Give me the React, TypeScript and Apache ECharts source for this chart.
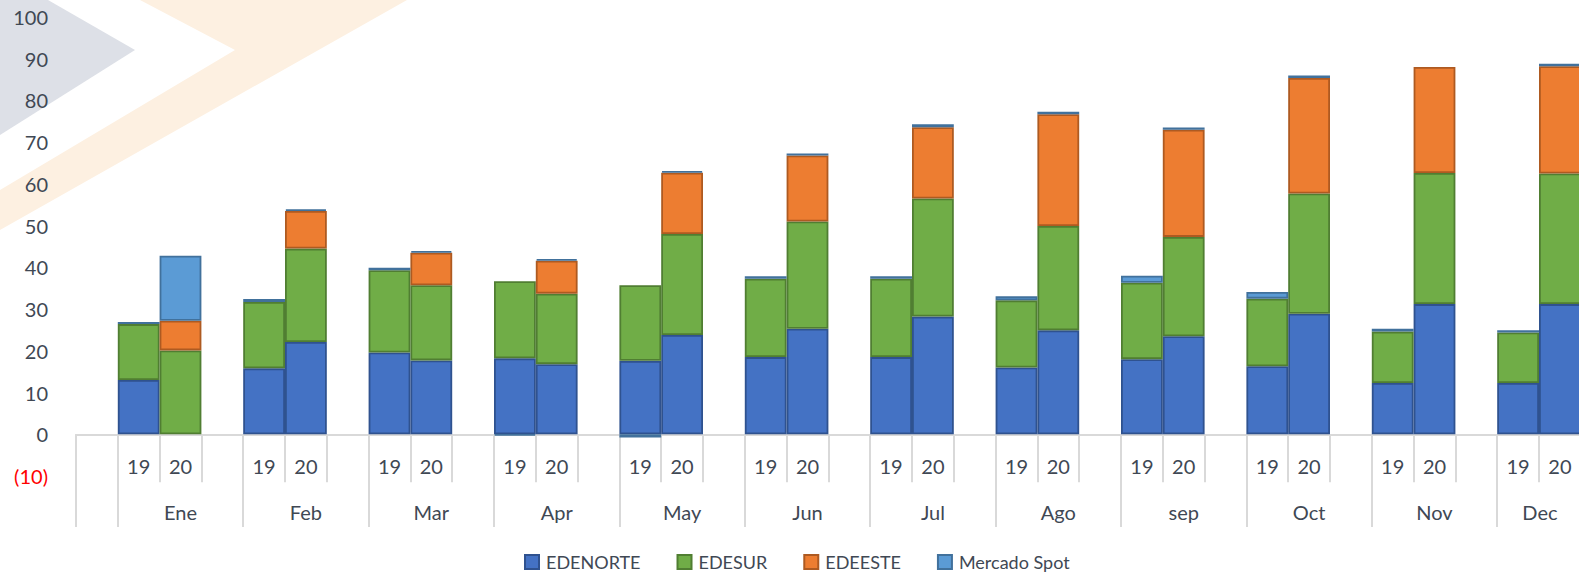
import { useEffect, useRef } from 'react';
import * as echarts from 'echarts';

const months = ['Ene', 'Feb', 'Mar', 'Apr', 'May', 'Jun', 'Jul', 'Ago', 'sep', 'Oct', 'Nov', 'Dec'];
const years = ['19', '20'];
const seriesNames = ['EDENORTE', 'EDESUR', 'EDEESTE', 'Mercado Spot'];

const edenorte19 = [13.0, 15.8, 19.6, 18.2, 17.6, 18.5, 18.5, 16.0, 18.0, 16.3, 12.3, 12.3];
const edenorte20 = [null, 22.1, 17.7, 16.8, 23.8, 25.3, 28.2, 24.9, 23.5, 28.9, 31.2, 31.2];
const edesur19 = [13.4, 15.9, 19.7, 18.5, 18.1, 18.8, 18.8, 16.1, 18.3, 16.2, 12.3, 12.1];
const edesur20 = [20.1, 22.4, 18.0, 16.9, 24.2, 25.7, 28.3, 25.0, 23.8, 28.8, 31.4, 31.3];
const edeeste19 = [null, null, null, null, null, null, null, null, null, null, null, null];
const edeeste20 = [7.1, 9.0, 7.8, 7.9, 14.7, 15.8, 17.1, 26.8, 25.7, 27.7, 25.4, 25.7];
const spot19 = [0.5, 0.7, 0.6, -0.3, -0.8, 0.6, 0.6, 1.0, 1.7, 1.6, 0.7, 0.5];
const spot20 = [15.6, 0.4, 0.4, 0.4, 0.4, 0.5, 0.7, 0.6, 0.5, 0.6, null, 0.6];

const yMin = -10;
const yMax = 100;
const yStep = 10;

const fills = ['#4472C4', '#70AD47', '#ED7D31', '#5B9BD5'];
const borders = ['#2F528F', '#507E32', '#AE5A21', '#41719C'];

function slots(v19: (number | null)[], v20: (number | null)[]) {
  const out: (number | null)[] = [null];
  for (let m = 0; m < months.length; m++) out.push(v19[m], v20[m], null);
  return out;
}

const yearCats: string[] = [''];
const monthCats: string[] = [''];
months.forEach((m) => {
  yearCats.push(years[0], years[1], '');
  monthCats.push('', m, '');
});

const seriesData = [
  slots(edenorte19, edenorte20),
  slots(edesur19, edesur20),
  slots(edeeste19, edeeste20),
  slots(spot19, spot20),
];

const TEXT = '#404854';
const GRIDLINE = '#d9d9d9';
const FONT = 'Lato';

const SLOT_W = 41.8;
const GRID_LEFT = 76;
const CHART_W = Math.ceil(GRID_LEFT + SLOT_W * yearCats.length + 10);
const lastMonth = months[months.length - 1];

export default function App() {
  const ref = useRef<HTMLDivElement>(null);
  useEffect(() => {
    if (!ref.current) return;
    const chart = echarts.init(ref.current, undefined, { renderer: 'svg' });
    const gridTop = 17;
    const gridH = 459;
    const zeroOffset = (gridH * (0 - yMin)) / (yMax - yMin);
    chart.setOption({
      animation: false,
      backgroundColor: '#ffffff',
      graphic: [
        {
          type: 'polygon',
          z: -10,
          silent: true,
          shape: { points: [[0, 0], [48, 0], [135, 50], [0, 135]] },
          style: { fill: '#dde0e7' },
        },
        {
          type: 'polygon',
          z: -10,
          silent: true,
          shape: { points: [[140, 0], [407, 0], [0, 230], [0, 190], [235, 50]] },
          style: { fill: '#fdf0e1' },
        },
      ],
      grid: { left: GRID_LEFT, top: gridTop, width: SLOT_W * yearCats.length, height: gridH },
      legend: {
        left: 519,
        top: 548,
        icon: 'rect',
        itemWidth: 14,
        itemHeight: 14,
        itemGap: 36,
        data: seriesNames,
        textStyle: { fontFamily: FONT, fontSize: 18, color: TEXT, padding: [0, 0, 0, 2] },
      },
      xAxis: [
        {
          type: 'category',
          position: 'bottom',
          offset: -zeroOffset,
          data: yearCats,
          axisLine: { show: true, onZero: false, lineStyle: { color: GRIDLINE, width: 2 } },
          axisTick: { show: true, interval: 0, length: 48, lineStyle: { color: GRIDLINE, width: 2 } },
          axisLabel: { interval: 0, margin: 22, fontFamily: FONT, fontSize: 20, color: TEXT },
          splitLine: { show: false },
        },
        {
          type: 'category',
          position: 'bottom',
          offset: 0,
          data: monthCats,
          axisLine: { show: false, onZero: false },
          axisTick: {
            show: true,
            interval: (i: number) => i === 0 || (i - 1) % 3 === 0,
            length: 51,
            lineStyle: { color: GRIDLINE, width: 2 },
          },
          axisLabel: {
            interval: 0,
            margin: 26,
            fontFamily: FONT,
            fontSize: 20,
            color: TEXT,
            formatter: (v: string) => (v === lastMonth ? `{last|${v}}` : v),
            rich: {
              last: { fontFamily: FONT, fontSize: 20, color: TEXT, padding: [0, 40, 0, 0] },
            },
          },
          splitLine: { show: false },
        },
      ],
      yAxis: {
        type: 'value',
        min: yMin,
        max: yMax,
        interval: yStep,
        axisLine: { show: false, onZero: false },
        axisTick: { show: false },
        splitLine: { show: false },
        axisLabel: {
          margin: 28,
          fontFamily: FONT,
          fontSize: 20,
          color: TEXT,
          formatter: (v: number) => (v < 0 ? `{neg|(${-v})}` : `${v}`),
          rich: { neg: { color: '#ff0000', fontFamily: FONT, fontSize: 20 } },
        },
      },
      series: seriesNames.map((name, i) => ({
        name,
        type: 'bar',
        stack: 'total',
        xAxisIndex: 0,
        barCategoryGap: '0%',
        barGap: '0%',
        data: seriesData[i],
        itemStyle: { color: fills[i], borderColor: borders[i], borderWidth: 1.8 },
      })),
    });
    return () => chart.dispose();
  }, []);
  return (
    <div
      style={{
        position: 'absolute',
        left: 0,
        top: 0,
        width: 1579,
        height: 576,
        overflow: 'hidden',
        background: '#ffffff',
      }}
    >
      <div ref={ref} style={{ width: CHART_W, height: 576 }} />
    </div>
  );
}
